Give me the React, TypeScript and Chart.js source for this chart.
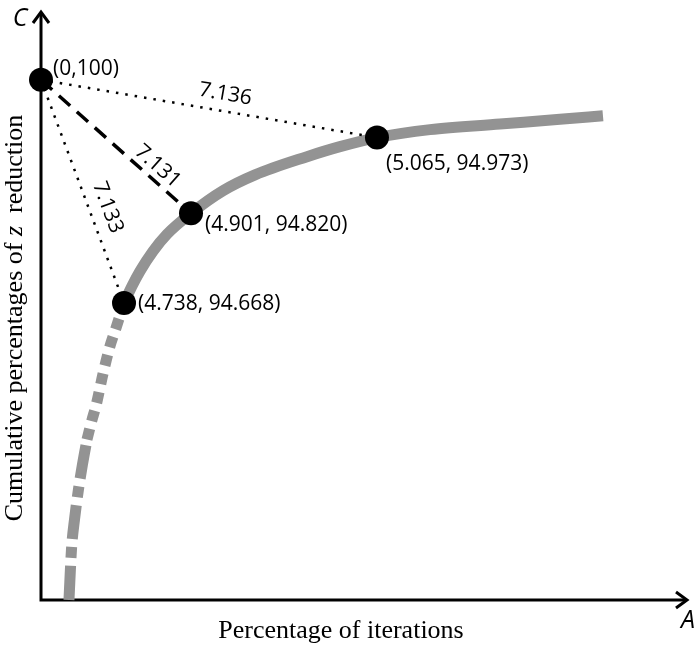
import React, { useEffect, useRef } from "react";
import { Chart, registerables } from "chart.js";

Chart.register(...registerables);

// Schematic coordinates (0..100 along each drawn axis)
const curveLowerX = [4.33, 4.72, 5.19, 5.8, 6.42, 7.12];
const curveLowerY = [0, 8.64, 13.73, 18.81, 23.05, 27.29];
const curveMidX = [7.12, 7.82, 8.59, 9.6, 10.6, 11.61, 12.85];
const curveMidY = [27.29, 30.34, 33.39, 38.47, 42.88, 46.27, 50.51];
const curveUpperX = [12.85, 14.09, 15.33, 17.34, 19.5, 23.22, 28.17, 33.13, 41.18, 46.28, 52.01, 60.22, 71.05, 80.34, 86.99];
const curveUpperY = [50.51, 53.39, 55.93, 59.32, 62.2, 65.76, 69.6, 72.3, 75.4, 77.1, 78.64, 80.0, 80.95, 81.75, 82.37];

const pointX = [0, 12.85, 23.22, 52.01];
const pointY = [88.47, 50.51, 65.76, 78.64];
const pointLabels = ["(0,100)", "(4.738, 94.668)", "(4.901, 94.820)", "(5.065, 94.973)"];

// distances from (0,100) to the three other points
const distanceLabels = ["7.133", "7.131", "7.136"];

const xTitle = "Percentage of iterations";
const yTitleParts = ["Cumulative percentages of ", "z", "  reduction"];
const xAxisLetter = "A";
const yAxisLetter = "C";

const GRAY = "#939393";
const SANS = "'Open Sans', 'Noto Sans', sans-serif";
const SERIF = "'Liberation Serif', 'DejaVu Serif', serif";

function toXY(xs: number[], ys: number[]) {
  return xs.map((x, i) => ({ x, y: ys[i] }));
}

function drawAlong(ctx: CanvasRenderingContext2D, text: string, x1: number, y1: number, x2: number, y2: number, t: number, offset: number) {
  const ang = Math.atan2(y2 - y1, x2 - x1);
  const mx = x1 + (x2 - x1) * t;
  const my = y1 + (y2 - y1) * t;
  const nx = Math.sin(ang);
  const ny = -Math.cos(ang);
  ctx.save();
  ctx.translate(mx + nx * offset, my + ny * offset);
  ctx.rotate(ang);
  ctx.textAlign = "center";
  ctx.textBaseline = "middle";
  ctx.fillText(text, 0, 0);
  ctx.restore();
}

const overlay = {
  id: "overlay",
  beforeDatasetsDraw(chart: any) {
    const { ctx, chartArea: ca } = chart;
    ctx.save();
    ctx.strokeStyle = "#000";
    ctx.lineWidth = 3;
    ctx.lineJoin = "miter";
    ctx.lineCap = "butt";
    // axes
    ctx.beginPath();
    ctx.moveTo(ca.left, ca.top + 1);
    ctx.lineTo(ca.left, ca.bottom);
    ctx.lineTo(ca.right - 1, ca.bottom);
    ctx.stroke();
    // arrow heads
    ctx.beginPath();
    ctx.moveTo(ca.left - 8, ca.top + 11);
    ctx.lineTo(ca.left, ca.top);
    ctx.lineTo(ca.left + 8, ca.top + 11);
    ctx.stroke();
    ctx.beginPath();
    ctx.moveTo(ca.right - 11, ca.bottom - 8);
    ctx.lineTo(ca.right, ca.bottom);
    ctx.lineTo(ca.right - 11, ca.bottom + 8);
    ctx.stroke();

    // axis letters
    ctx.fillStyle = "#000";
    ctx.font = `italic 25px ${SANS}`;
    ctx.textAlign = "center";
    ctx.textBaseline = "middle";
    ctx.fillText(yAxisLetter, ca.left - 21, ca.top + 7);
    ctx.fillText(xAxisLetter, ca.right + 1, ca.bottom + 21);

    // x title
    ctx.font = `26px ${SERIF}`;
    ctx.textBaseline = "alphabetic";
    ctx.fillText(xTitle, 341, ca.bottom + 38);

    // y title with italic z
    const fonts = [`26px ${SERIF}`, `italic 26px ${SERIF}`, `26px ${SERIF}`];
    const widths = yTitleParts.map((p, i) => {
      ctx.font = fonts[i];
      return ctx.measureText(p).width;
    });
    const total = widths.reduce((a, b) => a + b, 0);
    ctx.save();
    ctx.translate(21.5, 318);
    ctx.rotate(-Math.PI / 2);
    ctx.textAlign = "left";
    let cx = -total / 2;
    yTitleParts.forEach((p, i) => {
      ctx.font = fonts[i];
      ctx.fillText(p, cx, 0);
      cx += widths[i];
    });
    ctx.restore();
    ctx.restore();
  },
  afterDatasetsDraw(chart: any) {
    const { ctx, scales } = chart;
    const px = pointX.map((v) => scales.x.getPixelForValue(v));
    const py = pointY.map((v) => scales.y.getPixelForValue(v));
    ctx.save();
    ctx.fillStyle = "#000";
    ctx.font = `21px ${SANS}`;
    ctx.textAlign = "left";
    ctx.textBaseline = "middle";
    const offs = [
      [12, -11],
      [14, 1],
      [14, 12],
      [9, 26],
    ];
    pointLabels.forEach((lab, i) => {
      ctx.fillText(lab, px[i] + offs[i][0], py[i] + offs[i][1]);
    });
    // distance labels along lines from (0,100)
    const params = [
      [0.6, 18],
      [0.72, 13],
      [0.54, 17],
    ];
    distanceLabels.forEach((lab, i) => {
      const j = i + 1;
      drawAlong(ctx, lab, px[0], py[0], px[j], py[j], params[i][0], params[i][1]);
    });
    ctx.restore();
  },
};

export default function App() {
  const ref = useRef<HTMLCanvasElement | null>(null);
  useEffect(() => {
    document.body.style.margin = "0";
    document.body.style.overflow = "hidden";
    const canvas = ref.current;
    if (!canvas) return;
    const p0 = { x: pointX[0], y: pointY[0] };
    const pts = toXY(pointX, pointY);
    const curveStyle = {
      showLine: true,
      borderColor: GRAY,
      borderWidth: 11,
      borderCapStyle: "butt",
      cubicInterpolationMode: "monotone",
      pointRadius: 0,
      order: 2,
      clip: false,
    };
    const chart = new Chart(canvas, {
      type: "scatter",
      data: {
        datasets: [
          {
            label: "points",
            data: pts,
            pointRadius: 12,
            pointBackgroundColor: "#000",
            pointBorderWidth: 0,
            showLine: false,
            order: 0,
            clip: false,
          },
          {
            label: "d1",
            data: [p0, pts[1]],
            showLine: true,
            borderColor: "#000",
            borderWidth: 2.5,
            borderDash: [2.5, 7],
            pointRadius: 0,
            order: 1,
            clip: false,
          },
          {
            label: "d2",
            data: [p0, pts[2]],
            showLine: true,
            borderColor: "#000",
            borderWidth: 3.5,
            borderDash: [15, 9],
            pointRadius: 0,
            order: 1,
            clip: false,
          },
          {
            label: "d3",
            data: [p0, pts[3]],
            showLine: true,
            borderColor: "#000",
            borderWidth: 2.5,
            borderDash: [2.5, 7],
            pointRadius: 0,
            order: 1,
            clip: false,
          },
          { label: "curve upper", data: toXY(curveUpperX, curveUpperY), ...curveStyle },
          { label: "curve mid", data: toXY(curveMidX, curveMidY), ...curveStyle, borderDash: [11, 8] },
          { label: "curve lower", data: toXY(curveLowerX, curveLowerY), ...curveStyle, borderDash: [34, 8, 11, 8] },
        ],
      },
      options: {
        responsive: false,
        animation: false,
        devicePixelRatio: 1,
        events: [],
        layout: { padding: { left: 41, right: 13, top: 10, bottom: 51 } },
        scales: {
          x: { type: "linear", min: 0, max: 100, display: false },
          y: { type: "linear", min: 0, max: 100, display: false },
        },
        plugins: { legend: { display: false }, tooltip: { enabled: false } },
      },
      plugins: [overlay],
    } as any);
    return () => chart.destroy();
  }, []);
  return (
    <div style={{ width: 700, height: 651, background: "#fff" }}>
      <canvas ref={ref} width={700} height={651} style={{ display: "block" }} />
    </div>
  );
}
